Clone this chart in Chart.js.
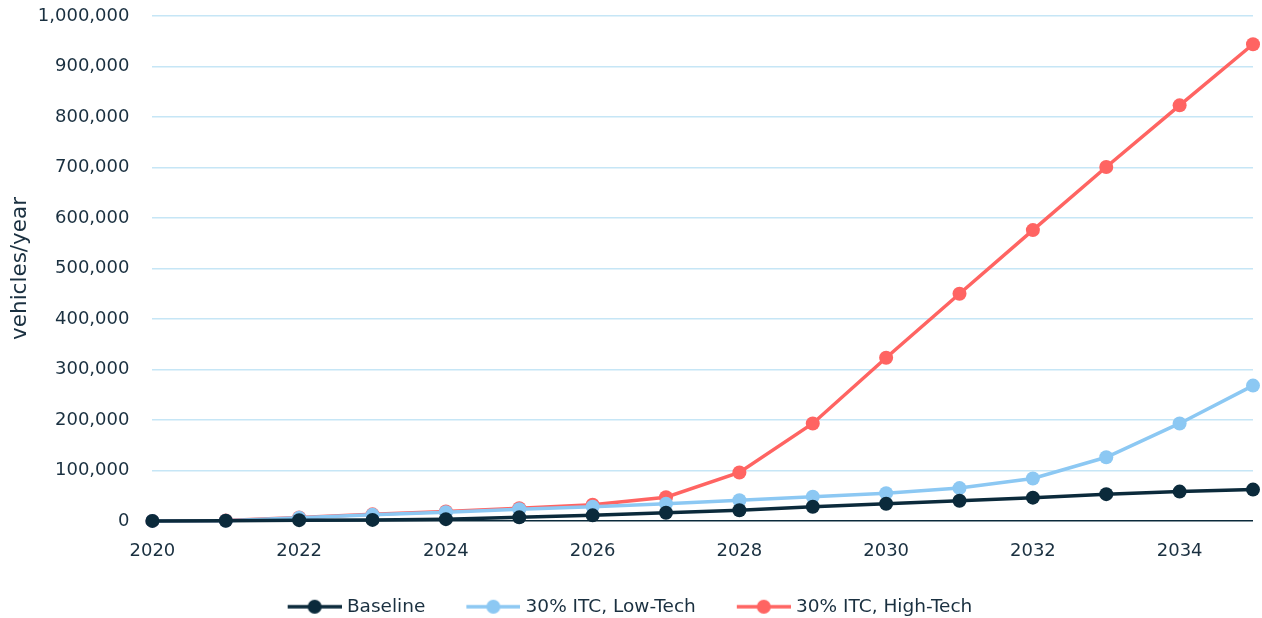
<!DOCTYPE html>
<html>
<head>
<meta charset="utf-8">
<script src="https://cdn.jsdelivr.net/npm/chart.js@4/dist/chart.umd.min.js"></script>
<style>
  html, body { margin: 0; padding: 0; background: #ffffff; }
  #wrap { width: 1262px; height: 618px; }
</style>
</head>
<body>
<div id="wrap"><canvas id="chart" width="1262" height="618"></canvas></div>
<script>
// Annual vehicle sales under three scenarios
const years = ['2020','2021','2022','2023','2024','2025','2026','2027','2028','2029','2030','2031','2032','2033','2034','2035'];
const baseline = [0, 300, 1500, 2000, 3500, 7000, 11000, 16000, 21000, 28000, 34000, 40000, 46000, 53000, 58000, 62000];
const lowTech  = [0, 500, 6000, 12000, 17000, 23000, 28000, 34000, 41000, 48000, 55000, 65000, 84000, 126000, 193000, 268000];
const highTech = [0, 1000, 6600, 13000, 18500, 25000, 32000, 47000, 96000, 193000, 323000, 450000, 576000, 701000, 823000, 944000];
const seriesNames = ['Baseline', '30% ITC, Low-Tech', '30% ITC, High-Tech'];
const seriesColors = ['#0b2a3b', '#8cc8f3', '#ff6462'];
const yTicks = [0, 100000, 200000, 300000, 400000, 500000, 600000, 700000, 800000, 900000, 1000000];

const FONT = '"DejaVu Sans", sans-serif';
const TEXT = '#1a3040';

// legend marker: short line with a dot in the middle, with blank space on
// its left that separates it from the previous legend entry
const MARK_GAP = 43;      // blank space before the marker
const MARK_LEN = 54;      // length of the marker line
const MARK_BOX = MARK_GAP + MARK_LEN - 8;   // box width reserved by the legend
const LEGEND_SHIFT = 20;  // nudge the legend row left
function legendMarker(color) {
  const c = document.createElement('canvas');
  c.width = MARK_BOX + 8; c.height = 18;
  const g = c.getContext('2d');
  g.strokeStyle = color; g.lineWidth = 3.5;
  g.beginPath(); g.moveTo(MARK_GAP, 9); g.lineTo(MARK_GAP + MARK_LEN, 9); g.stroke();
  g.fillStyle = color;
  g.beginPath(); g.arc(MARK_GAP + MARK_LEN / 2, 9, 7, 0, Math.PI * 2); g.fill();
  return c;
}
const markers = seriesColors.map(legendMarker);

function ds(i, data) {
  return {
    label: seriesNames[i],
    data: data,
    borderColor: seriesColors[i],
    backgroundColor: seriesColors[i],
    borderWidth: 3.5,
    pointRadius: 7,
    pointHoverRadius: 7,
    pointBorderWidth: 0,
    tension: 0,
    clip: false
  };
}

const legendNudge = {
  id: 'legendNudge',
  afterLayout(chart) {
    if (chart.legend) {
      chart.legend.left -= LEGEND_SHIFT;
      chart.legend.right -= LEGEND_SHIFT;
    }
  }
};

new Chart(document.getElementById('chart'), {
  type: 'line',
  data: {
    labels: years,
    datasets: [ds(0, baseline), ds(1, lowTech), ds(2, highTech)]
  },
  plugins: [legendNudge],
  options: {
    responsive: false,
    animation: false,
    layout: { padding: { top: 16, right: 9, left: 8, bottom: -8 } },
    plugins: {
      tooltip: { enabled: false },
      legend: {
        position: 'bottom',
        labels: {
          usePointStyle: true,
          pointStyleWidth: MARK_BOX,
          padding: 2,
          color: TEXT,
          font: { family: FONT, size: 18.5 },
          generateLabels(chart) {
            return chart.data.datasets.map((d, i) => ({
              text: d.label,
              fillStyle: d.borderColor,
              strokeStyle: d.borderColor,
              lineWidth: 0,
              pointStyle: markers[i],
              fontColor: TEXT,
              hidden: false,
              datasetIndex: i
            }));
          }
        }
      }
    },
    scales: {
      x: {
        type: 'category',
        offset: false,
        grid: { display: false, drawTicks: false },
        border: { display: false },
        afterFit(s) { s.paddingLeft = 0; s.paddingRight = 0; s.height += 13; },
        ticks: {
          autoSkip: false,
          maxRotation: 0,
          padding: 20,
          color: TEXT,
          font: { family: FONT, size: 18 },
          callback(v, i) { return i % 2 === 0 ? years[i] : ''; }
        }
      },
      y: {
        min: 0,
        max: 1000000,
        afterBuildTicks(axis) { axis.ticks = yTicks.map(v => ({ value: v })); },
        afterFit(s) { s.paddingTop = 0; s.paddingBottom = 0; s.width -= 23; },
        grid: {
          drawTicks: false,
          lineWidth: 1.5,
          color(ctx) { return ctx.tick && ctx.tick.value === 0 ? '#0b2a3b' : '#c6e6f6'; }
        },
        border: { display: false },
        ticks: {
          padding: 23,
          color: TEXT,
          font: { family: FONT, size: 18 },
          callback(v) { return Number(v).toLocaleString('en-US'); }
        },
        title: {
          display: true,
          text: 'vehicles/year',
          color: TEXT,
          font: { family: FONT, size: 21.5 },
          padding: { top: 0, bottom: 4 }
        }
      }
    }
  }
});
</script>
</body>
</html>
